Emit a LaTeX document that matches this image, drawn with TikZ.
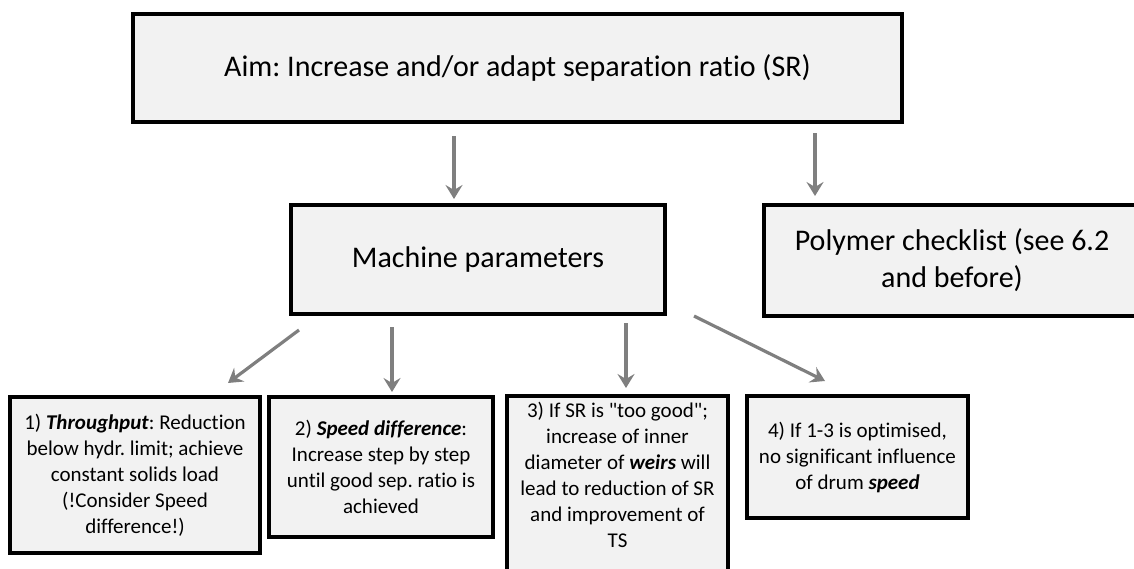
\documentclass[tikz,border=0pt]{standalone}
\usepackage{fontspec}
\setmainfont{Carlito}[Ligatures={TeXOff,NoCommon}]
\usetikzlibrary{arrows.meta}
\definecolor{boxfill}{RGB}{242,242,242}
\definecolor{arrowgray}{RGB}{127,127,127}
\newcommand{\bigtxt}{\fontsize{15}{18.5}\selectfont}
\newcommand{\smalltxt}{\fontsize{10.5}{13}\selectfont}
\newcommand{\kw}[1]{\textbf{\textit{#1}}}
\frenchspacing
\begin{document}
\begin{tikzpicture}[x=0.5pt, y=-0.5pt,
	box/.style={draw=black, line width=2pt, fill=boxfill, align=center, inner sep=2pt},
	bigbox/.style={box, font=\bigtxt},
	smallbox/.style={box, font=\smalltxt},
	arr/.style={draw=arrowgray, line width=1.6pt, -{Stealth[length=7pt,width=8.5pt,inset=2.5pt]}}]
	\useasboundingbox (0,0) rectangle (1134,568);
	\node [bigbox, minimum width=384.5pt, minimum height=54pt] (aim) at (517.5,68) {Aim: Increase and/or adapt separation ratio (SR)};
	\node [bigbox, minimum width=187pt, minimum height=54.5pt] (mp) at (478,259.5) {Machine parameters};
	\node [bigbox, minimum width=188pt, minimum height=55.5pt] (poly) at (952,260.5) {Polymer checklist (see 6.2\\and before)};
	\node [smallbox, minimum width=125pt, minimum height=78pt] (tp) at (135,475) {1) \kw{Throughput}: Reduction\\below hydr. limit; achieve\\constant solids load\\(!Consider Speed\\difference!)};
	\node [smallbox, minimum width=112pt, minimum height=70pt] (sd) at (381,467) {2) \kw{Speed difference}:\\Increase step by step\\until good sep. ratio is\\achieved};
	\node [smallbox, minimum width=110.5pt, inner ysep=3pt, text depth=25pt, anchor=north] (weir) at (617.5,394) {3) If SR is "too good";\\increase of inner\\diameter of \kw{weirs} will\\lead to reduction of SR\\and improvement of\\TS};
	\node [smallbox, minimum width=110.5pt, minimum height=61pt] (drum) at (857.5,457) {4) If 1-3 is optimised,\\no significant influence\\of drum \kw{speed}};
	\coordinate (a1) at (454,136);
	\coordinate (a2) at (454,199);
	\coordinate (p1) at (815,133);
	\coordinate (p2) at (815,196);
	\coordinate (t1) at (299,330);
	\coordinate (t2) at (228,383);
	\coordinate (s1) at (392,327);
	\coordinate (s2) at (392,392);
	\coordinate (w1) at (626,323);
	\coordinate (w2) at (626,388);
	\coordinate (d1) at (694,316);
	\coordinate (d2) at (825,381);
	\draw [arr] (a1) to (a2);
	\draw [arr] (p1) to (p2);
	\draw [arr] (t1) to (t2);
	\draw [arr] (s1) to (s2);
	\draw [arr] (w1) to (w2);
	\draw [arr] (d1) to (d2);
\end{tikzpicture}
\end{document}
